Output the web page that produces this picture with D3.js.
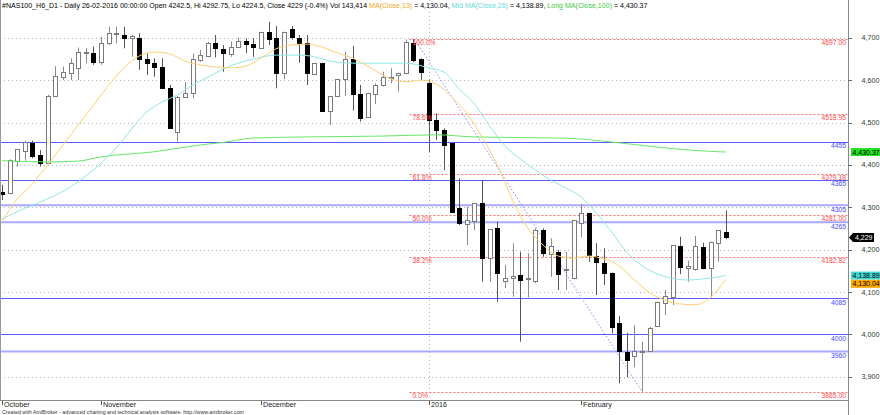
<!DOCTYPE html>
<html><head><meta charset="utf-8">
<script src="https://cdn.jsdelivr.net/npm/d3@7"></script>
<style>html,body{margin:0;padding:0;background:#fff;overflow:hidden}svg{display:block;font-family:"Liberation Sans",Arial,sans-serif}</style>
</head><body><svg id="c" width="880" height="415"></svg>
<script>
// ---- data ----
const openP  = [4335,4333,4410,4433.5,4451,4423.4,4405,4562.5,4608,4617.5,4628,4663.3,4663.3,4643.4,4687,4710,4706.4,4700,4698.7,4649,4641,4630,4582,4477,4559.5,4569,4647.5,4657,4688,4672.7,4661.6,4678.8,4693,4685.2,4675,4714.2,4698.7,4616,4720,4698.7,4688.3,4614.4,4641,4528,4562.5,4602,4649,4567.3,4512.3,4567.3,4588.5,4604.3,4612,4616,4688,4649,4592.5,4506,4482.3,4451,4297.6,4260.6,4268.4,4309.4,4179.7,4250.4,4126.8,4132.5,4140.3,4132.5,4126.8,4246.4,4189.8,4195.2,4152,4132.5,4263.6,4285.8,4185.1,4169.3,4145.7,4027.7,3959.3,3949.2,3961,3961.7,4020,4074.9,4087.7,4208.7,4156.1,4153.7,4207,4156.1,4215.1,4242.5];
const highP  = [4353,4413,4437,4457,4457,4435,4565,4633,4632,4651.5,4677,4675,4679,4702,4726,4726,4726,4706.4,4710.4,4663,4651.5,4651.5,4588.5,4562.5,4596,4663,4671,4690.6,4706.4,4682.8,4690.6,4701,4698.7,4698.7,4714.2,4737.8,4727.7,4714.2,4727.7,4706.4,4706.4,4641,4641,4562.5,4602,4667,4680.5,4588.5,4570.3,4592.5,4620,4628,4617.5,4696,4697,4651.5,4602,4521.7,4486.3,4451,4368.4,4301.4,4309.4,4364.4,4248.1,4266,4164,4215,4195,4191.5,4250.4,4250.4,4226.8,4199.3,4195,4270,4307.8,4287.2,4215.1,4203.3,4146,4043.6,4004.2,4022,3983,4018.3,4077.3,4105,4211,4230.6,4174,4232.3,4216.5,4219,4246.4,4292.75];
const lowP   = [4317,4332,4396,4410,4415.6,4396,4404,4562,4600,4600,4600,4640,4636,4636,4683,4687,4675,4655,4624,4612,4608,4580.7,4486,4455,4559.5,4557,4643.4,4653.8,4653.8,4620,4655,4678.8,4663.3,4655,4675,4682.8,4580.7,4602,4696,4641,4588.5,4612,4528,4494,4562.5,4562.5,4528,4502,4512.3,4543.7,4584.5,4592.5,4572.7,4616,4642.7,4600,4431,4458.7,4388,4289.6,4258.2,4211,4246.4,4124.5,4124.5,4077.3,4109,4089,3983,4087.7,4120.7,4183.4,4136.3,4105,4105,4130,4229.2,4171.6,4093,4116.7,4002.7,3884.8,3899,3923,3865,3961,4020,4046,4069.5,4142.6,4124.5,4150.4,4153.7,4087.7,4171.6,4224.5];
const closeP = [4331,4411,4437,4453,4421.7,4405,4563,4610,4618,4641,4665.6,4665.6,4643.4,4687,4710.4,4711,4698.7,4704.8,4649,4639.7,4630,4582,4488,4561,4570,4649,4659.3,4688.3,4675,4664.7,4677.4,4693,4685.2,4678.8,4714.2,4697,4616,4714.2,4702.4,4688.3,4616,4639.7,4528,4562.5,4602,4649,4567.3,4510,4570.3,4588.5,4606.6,4608,4617.5,4690.6,4646.3,4620,4506,4482.3,4447,4289.6,4263.6,4270,4309.4,4179.7,4248.1,4144.3,4132.5,4138.6,4128.5,4133.5,4246.4,4191.5,4208.7,4142.6,4154,4270,4287.2,4187.5,4171.6,4145.7,4018.3,3961.7,3939.8,3961.7,3962,4014.5,4077.3,4091.4,4211,4158.4,4161.5,4208.7,4156.1,4218.8,4246.4,4229];

const monthNames = ["October","November","December","2016","February"];
const monthBars  = [0,13,34,56,76];
const yearBar = 56;
const priceTicks = [3900,4000,4100,4200,4300,4400,4500,4600,4700];

const ma13 = [[0,4265],[2,4320],[4,4355],[6,4400],[8,4447],[10,4494],[12,4541],[14,4588],[16,4629],[18,4657],[20,4666],[22,4662],[24,4645],[26,4636],[28,4631],[30,4629],[32,4633],[34,4652],[36,4674],[38,4683],[40,4685],[42,4678],[44,4664],[46,4652],[48,4633],[50,4612],[52,4598],[53,4596],[55,4600],[57,4591],[59,4560],[61,4522],[63,4465],[65,4400],[67,4317],[69,4251],[71,4211],[73,4185],[75,4180],[77,4185],[79,4178],[81,4162],[83,4129],[85,4098],[87,4081],[89,4072],[91,4070],[93,4088],[95,4130.04]];
const ma26 = [[0,4272],[3,4298],[6,4320],[9,4348],[11,4374],[13,4404],[15,4440],[17,4485],[19,4525],[21,4548],[23,4565],[25,4588],[27,4607],[29,4626],[31,4640],[33,4650],[36,4659],[39,4659],[41,4655],[43,4645],[46,4640],[50,4640],[53,4640],[56,4629],[58,4619],[60,4579],[62,4544],[64,4492],[66,4445],[68,4414],[70,4388],[72,4364],[74,4346],[76,4324],[78,4287],[80,4242],[82,4194],[84,4162],[86,4143],[88,4132],[90,4128.5],[92,4131],[95,4138.89]];
const ma100 = [[0,4410],[6,4407],[10,4409],[13,4419],[20,4431],[26,4447],[29,4453],[33,4463.5],[40,4466],[50,4468],[57,4471],[62,4466],[74,4463],[80,4454],[86,4442],[91,4434],[95,4430.37]];

const levels = [4455,4365,4305,4265,4085,4000,3960];
const levelStrong = [false,false,true,true,false,false,true];
const fibHigh = 4697, fibLow = 3865;
const fibRatios = [1,0.786,0.618,0.5,0.382,0];
const fibStartBar = 54, fibEndBar = 84;

const titleParts = [
  ["#NAS100_H6_D1 - Daily 26-02-2016 00:00:00 Open 4242.5, Hi 4292.75, Lo 4224.5, Close 4229 (-0.4%) Vol 143,414 ","#000"],
  ["MA(Close,13)","#f5a623"],[" = 4,130.04, ","#000"],
  ["Mid MA(Close,26)","#5fd8d8"],[" = 4,138.89, ","#000"],
  ["Long MA(Close,100)","#3cc83c"],[" = 4,430.37","#000"]
];

// ---- chart ----
const svg = d3.select("#c");
const R = 848, B = 400;
const FS = 7.2;
const x = d3.scaleLinear().domain([0,95]).range([2,725.9]);
const y = d3.scaleLinear().domain([fibLow,fibHigh]).range([391.7,39]);
const cx = i => Math.round(x(i));

// grid
svg.append("g").selectAll("line").data(priceTicks).join("line")
  .attr("x1",0).attr("x2",R).attr("y1",d=>Math.round(y(d))+0.5).attr("y2",d=>Math.round(y(d))+0.5)
  .attr("stroke","#b4b4b4").attr("stroke-dasharray","1,3");
svg.append("line").attr("x1",cx(yearBar)+0.5).attr("x2",cx(yearBar)+0.5).attr("y1",0).attr("y2",B)
  .attr("stroke","#b4b4b4").attr("stroke-dasharray","1,3");

// support / resistance lines
svg.append("g").selectAll("line").data(levels).join("line")
  .attr("x1",0).attr("x2",R)
  .attr("y1",(d,i)=>levelStrong[i]?y(d):Math.round(y(d))+0.5).attr("y2",(d,i)=>levelStrong[i]?y(d):Math.round(y(d))+0.5)
  .attr("stroke",(d,i)=>levelStrong[i]?"#a9a9ff":"#5a5aff").attr("stroke-width",(d,i)=>levelStrong[i]?2:1);

// fib lines
const fibVal = r => fibLow + r*(fibHigh-fibLow);
svg.append("g").selectAll("line").data(fibRatios).join("line")
  .attr("x1",x(fibStartBar)-4).attr("x2",R)
  .attr("y1",d=>Math.round(y(fibVal(d)))+0.5).attr("y2",d=>Math.round(y(fibVal(d)))+0.5)
  .attr("stroke","#ff6a6a").attr("stroke-dasharray","2,2");

// trend diagonal
svg.append("line").attr("x1",x(fibStartBar)+1).attr("y1",y(fibHigh)).attr("x2",x(fibEndBar)).attr("y2",y(fibLow))
  .attr("stroke","#8a8aff").attr("stroke-dasharray","1.5,2");

// candles
const idx = d3.range(openP.length);
const cg = svg.append("g");
idx.forEach(i=>{
  const up = closeP[i] >= openP[i];
  const c = cx(i);
  cg.append("line").attr("x1",c+0.5).attr("x2",c+0.5).attr("y1",y(highP[i])).attr("y2",y(lowP[i]))
    .attr("stroke", up ? "#8a8a8a" : "#555");
  const top = y(Math.max(openP[i],closeP[i])), bot = y(Math.min(openP[i],closeP[i]));
  cg.append("rect").attr("x",c-2+0.5).attr("width",4).attr("y",Math.round(top)+0.5).attr("height",Math.max(1,Math.round(bot)-Math.round(top)))
    .attr("fill", up ? "#fff" : "#000").attr("stroke", up ? "#7a7a7a" : "#000");
});

// moving averages
const line = d3.line().x(d=>x(d[0])).y(d=>y(d[1])).curve(d3.curveMonotoneX);
[[ma100,"#66e866"],[ma26,"#8fe8e4"],[ma13,"#ffcf70"]].forEach(([d,col])=>{
  svg.append("path").datum(d).attr("d",line).attr("fill","none").attr("stroke",col).attr("stroke-width",1);
});

// fib labels
const fmt2 = d3.format(".2f");
svg.append("g").selectAll("text").data(fibRatios).join("text")
  .attr("x",x(fibStartBar)-1).attr("y",d=>y(fibVal(d))+6)
  .attr("font-size",6.8).attr("fill","#ff4a4a").text(d=>d3.format(".1f")(d*100)+"%");
svg.append("g").selectAll("text").data(fibRatios).join("text")
  .attr("x",R-2).attr("y",d=>y(fibVal(d))+6).attr("text-anchor","end")
  .attr("font-size",6.8).attr("fill","#ff4a4a").text(d=>fmt2(fibVal(d)));
svg.append("g").selectAll("text").data(levels).join("text")
  .attr("x",R-2).attr("y",d=>y(d)+6.5).attr("text-anchor","end")
  .attr("font-size",6.8).attr("fill","#4a4aff").text(d=>d);

// axes frame
svg.append("line").attr("x1",0.5).attr("x2",0.5).attr("y1",0).attr("y2",B).attr("stroke","#999");
svg.append("line").attr("x1",0).attr("x2",R).attr("y1",B+0.5).attr("y2",B+0.5).attr("stroke","#888");
svg.append("line").attr("x1",R+0.5).attr("x2",R+0.5).attr("y1",0).attr("y2",415).attr("stroke","#888");

// right axis
const fmtC = d3.format(",");
const ax = svg.append("g");
ax.selectAll("line").data(priceTicks).join("line")
  .attr("x1",R).attr("x2",R+4).attr("y1",d=>Math.round(y(d))+0.5).attr("y2",d=>Math.round(y(d))+0.5).attr("stroke","#666");
ax.selectAll("text").data(priceTicks).join("text")
  .attr("x",861.5).attr("y",d=>y(d)+2.5).attr("font-size",FS).attr("fill","#333").text(d=>fmtC(d));

// price tags
function tag(v, off, bg, txt){
  const yc = y(v)+off;
  svg.append("rect").attr("x",851).attr("y",yc-4).attr("width",29).attr("height",8).attr("fill",bg);
  svg.append("text").attr("x",852.5).attr("y",yc+2.5).attr("font-size",7).attr("fill","#000").text(txt);
}
tag(4430.37,0,"#22e022",d3.format(",.2f")(4430.37));
tag(4138.89,0,"#40d8d0",d3.format(",.2f")(4138.89));
tag(4130.04,4.5,"#ffa800",d3.format(",.2f")(4130.04));
const lastC = closeP[closeP.length-1], yl = y(lastC);
svg.append("path").attr("d",`M849,${yl} L853,${yl-4.5} L874,${yl-4.5} L874,${yl+4.5} L853,${yl+4.5} Z`).attr("fill","#000");
svg.append("text").attr("x",855).attr("y",yl+2.5).attr("font-size",7).attr("fill","#fff").text(fmtC(lastC));

// bottom axis
const bx = svg.append("g");
bx.selectAll("line").data(monthBars).join("line")
  .attr("x1",d=>cx(d)+0.5).attr("x2",d=>cx(d)+0.5).attr("y1",B+1).attr("y2",B+5).attr("stroke","#555");
bx.selectAll("text").data(monthBars).join("text")
  .attr("x",d=>cx(d)+2).attr("y",406.8).attr("font-size",FS).attr("fill","#222").text((d,i)=>monthNames[i]);
svg.append("text").attr("x",2).attr("y",413.5).attr("font-size",5.3).attr("fill","#333")
  .text("Created with AmiBroker - advanced charting and technical analysis software. http://www.amibroker.com");

// title
const t = svg.append("text").attr("x",2).attr("y",8.3).attr("font-size",7.05).style("white-space","pre");
titleParts.forEach(([s,c])=>t.append("tspan").attr("fill",c).text(s));
</script></body></html>
